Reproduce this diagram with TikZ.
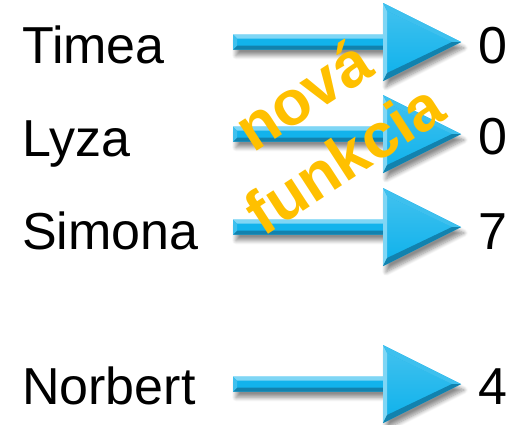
\documentclass[tikz,border=0pt]{standalone}
\usepackage{fontspec}
\setmainfont{Liberation Sans}
\usetikzlibrary{shadows.blur}
\definecolor{arrowmain}{HTML}{12B3EC}
\definecolor{arrowlight}{HTML}{7FD6F5}
\definecolor{arrowmid}{HTML}{3EC0EE}
\definecolor{arrowdark}{HTML}{1282AE}
\definecolor{gold}{HTML}{FFC000}
\tikzset{
  person/.style={anchor=base west,inner sep=0pt,font=\fontsize{52}{62}\selectfont},
  result/.style={anchor=base west,inner sep=0pt,font=\fontsize{52}{62}\selectfont},
  bluearrow/.pic={
    \fill[arrowmain,blur shadow={shadow xshift=3pt,shadow yshift=-6pt,shadow blur radius=4pt,shadow blur steps=8,shadow opacity=45}]
      (0,-7.5) -- (150,-7.5) -- (150,-39) -- (228,0) -- (150,39) -- (150,7.5) -- (0,7.5) -- cycle;
    \shade[top color=arrowmid,bottom color=arrowmain] (154,-31) -- (219,0) -- (154,31) -- cycle;
    \fill[arrowlight] (0,-7.5) -- (150,-7.5) -- (150,-3.5) -- (4,-3.5) -- cycle;
    \fill[arrowdark] (0,7.5) -- (150,7.5) -- (150,3.5) -- (4,3.5) -- cycle;
    \fill[arrowmid] (0,-7.5) -- (4,-3.5) -- (4,3.5) -- (0,7.5) -- cycle;
    \fill[arrowlight] (150,-39) -- (154,-31) -- (154,31) -- (150,39) -- cycle;
    \fill[arrowmid] (150,-39) -- (228,0) -- (219,0) -- (154,-31) -- cycle;
    \fill[arrowdark] (150,39) -- (228,0) -- (219,0) -- (154,31) -- cycle;
  }
}
\begin{document}
\begin{tikzpicture}[x=1pt,y=-1pt]
  \useasboundingbox (0,0) rectangle (510,424);

  \node[person] (timea) at (22,63) {Timea};
  \node[person] (lyza) at (22,156) {Lyza};
  \node[person] (simona) at (22,249) {Simona};
  \node[person] (norbert) at (22,404) {Norbert};

  \node[result] (r1) at (478,63) {0};
  \node[result] (r2) at (478,154) {0};
  \node[result] (r3) at (478,249) {7};
  \node[result] (r4) at (478,404) {4};

  \coordinate (a1) at (233,42);
  \coordinate (a2) at (233,134);
  \coordinate (a3) at (233,227);
  \coordinate (a4) at (233,384);
  \foreach \a in {a1,a2,a3,a4}
    \pic at (\a) {bluearrow};

  \node[gold,rotate=33,align=center,inner sep=0pt,
        font=\bfseries\fontsize{63}{76}\selectfont] (nova) at (323,126) {nová\\funkcia};
\end{tikzpicture}
\end{document}
